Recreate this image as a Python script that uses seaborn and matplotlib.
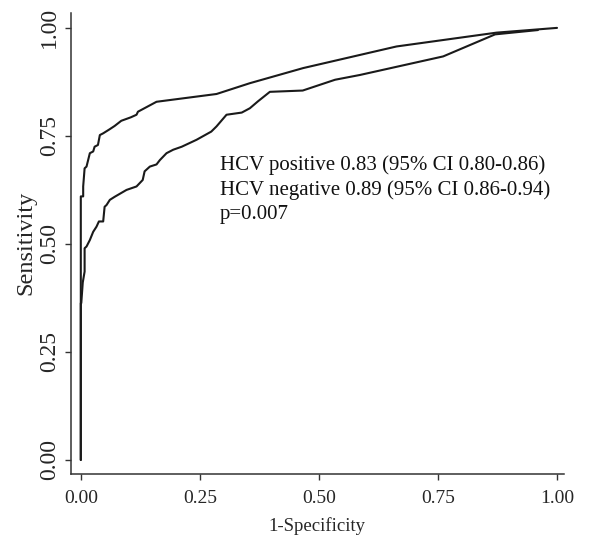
import matplotlib
matplotlib.use('Agg')
import matplotlib.pyplot as plt
import pandas as pd
import seaborn as sns

# ROC curves (x = 1-specificity, y = sensitivity)
neg_fpr = [0, 0, 0.005, 0.005, 0.008, 0.012, 0.019, 0.026, 0.029, 0.036, 0.040, 0.047,
           0.060, 0.071, 0.085, 0.105, 0.117, 0.120, 0.159, 0.285, 0.355, 0.467, 0.663,
           0.873, 1.0]
neg_tpr = [0, 0.610, 0.610, 0.633, 0.675, 0.679, 0.710, 0.714, 0.725, 0.729, 0.752, 0.756,
           0.765, 0.773, 0.785, 0.793, 0.799, 0.806, 0.829, 0.847, 0.872, 0.907, 0.957,
           0.989, 1.0]

pos_fpr = [0, 0, 0.001, 0.004, 0.004, 0.008, 0.008, 0.012, 0.019, 0.026, 0.033, 0.038,
           0.047, 0.050, 0.054, 0.061, 0.071, 0.096, 0.117, 0.130, 0.134, 0.145, 0.159,
           0.166, 0.180, 0.194, 0.212, 0.243, 0.274, 0.285, 0.306, 0.338, 0.355, 0.372,
           0.397, 0.466, 0.534, 0.586, 0.761, 0.870, 0.960]
pos_tpr = [0, 0.363, 0.363, 0.409, 0.410, 0.436, 0.490, 0.494, 0.509, 0.528, 0.540, 0.552,
           0.552, 0.586, 0.590, 0.602, 0.609, 0.625, 0.633, 0.648, 0.668, 0.679, 0.684,
           0.694, 0.710, 0.718, 0.725, 0.741, 0.760, 0.772, 0.799, 0.804, 0.814, 0.830,
           0.852, 0.855, 0.880, 0.891, 0.934, 0.985, 0.995]

ticks = [0.0, 0.25, 0.5, 0.75, 1.0]
tick_labels = ['0.00', '0.25', '0.50', '0.75', '1.00']
ann_lines = ['HCV positive 0.83 (95% CI 0.80-0.86)',
             'HCV negative 0.89 (95% CI 0.86-0.94)',
             'p=0.007']
ann_y = [0.671, 0.613, 0.558]

df = pd.concat([
    pd.DataFrame({'fpr': neg_fpr, 'tpr': neg_tpr, 'group': 'HCV negative'}),
    pd.DataFrame({'fpr': pos_fpr, 'tpr': pos_tpr, 'group': 'HCV positive'}),
])

sns.set_style('ticks')
plt.rcParams['font.family'] = ['Liberation Serif', 'DejaVu Serif']

fig = plt.figure(figsize=(6, 5.55), dpi=100)
ax = fig.add_axes([0.118, 0.146, 0.822, 0.831])
sns.lineplot(data=df, x='fpr', y='tpr', units='group', estimator=None, sort=False,
             color='#1a1a1a', linewidth=1.5, ax=ax, legend=False)

ax.set_xlim(-0.021, 1.0147)
ax.set_ylim(-0.0324, 1.035)
ax.set_xticks(ticks)
ax.set_xticklabels(tick_labels, fontsize=14)
ax.set_yticks(ticks)
ax.set_yticklabels(tick_labels, fontsize=17, rotation=90, va='center')
ax.tick_params(direction='out', length=4.5, width=1, color='#333333')
ax.tick_params(axis='x', pad=7)
ax.tick_params(axis='y', pad=3)
for s in ['left', 'bottom']:
    ax.spines[s].set_linewidth(1.1)
    ax.spines[s].set_color('#333333')
sns.despine(ax=ax)

ax.set_xlabel('1-Specificity', fontsize=13.5, labelpad=7)
ax.set_ylabel('Sensitivity', fontsize=17.5, labelpad=2)

for txt, yy in zip(ann_lines, ann_y):
    ax.text(0.292, yy, txt, fontsize=15, va='baseline', ha='left', color='#111111')

fig.savefig('out.png', dpi=100)
